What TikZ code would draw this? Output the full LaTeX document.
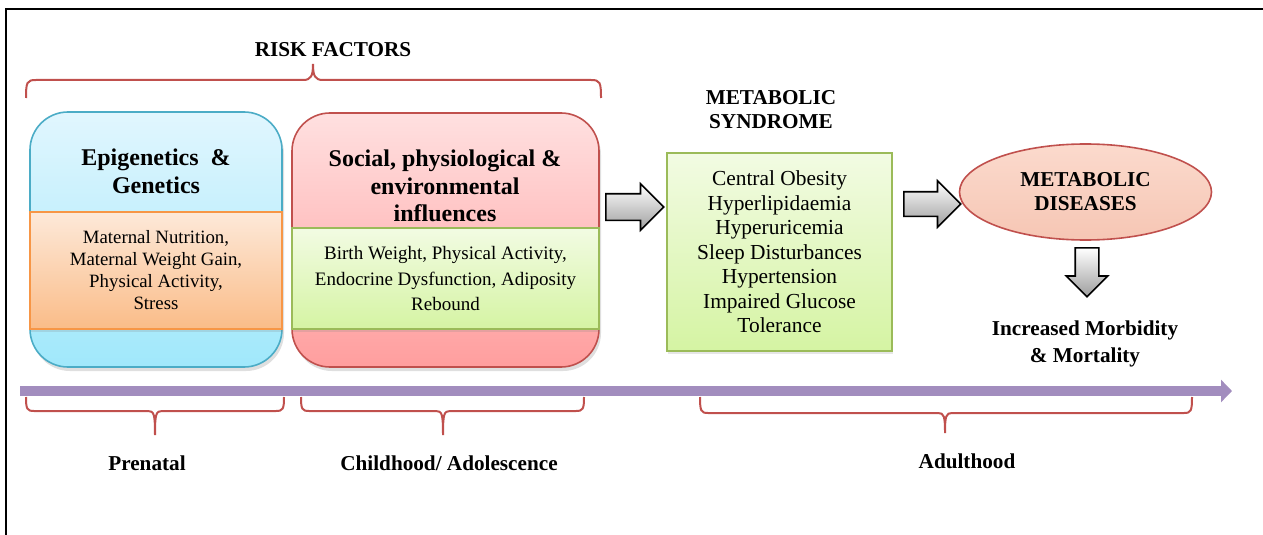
\documentclass[tikz,border=0pt]{standalone}
\usepackage{fontspec}
\setmainfont{Liberation Serif}
\usetikzlibrary{positioning, shapes.geometric, shapes.arrows, shadows, arrows.meta}

\definecolor{blueedge}{HTML}{4BACC6}
\definecolor{bluetop}{HTML}{E1F6FE}
\definecolor{bluebot}{HTML}{A0E8FB}
\definecolor{orangeedge}{HTML}{F79646}
\definecolor{orangetop}{HTML}{FDE9D9}
\definecolor{orangebot}{HTML}{FABC88}
\definecolor{pinkedge}{HTML}{C0504D}
\definecolor{pinktop}{HTML}{FFE0E0}
\definecolor{pinkbot}{HTML}{FF9E9E}
\definecolor{greenedge}{HTML}{9BBB59}
\definecolor{greentop}{HTML}{F2FBE3}
\definecolor{greenbot}{HTML}{D5F4A3}
\definecolor{saltop}{HTML}{FBDACD}
\definecolor{salbot}{HTML}{F6C6B4}
\definecolor{arrowgray}{HTML}{9E9E9E}
\definecolor{timeline}{HTML}{A28DBE}
\definecolor{bracered}{HTML}{C0504D}

\begin{document}
\begin{tikzpicture}[x=0.5pt, y=-0.5pt,
    stage/.style={rounded corners=19pt, line width=0.8pt, inner sep=0pt,
        drop shadow={opacity=0.25, shadow xshift=1pt, shadow yshift=-2pt}},
    factors/.style={line width=0.8pt, inner sep=0pt, align=center,
        drop shadow={opacity=0.2, shadow xshift=0.5pt, shadow yshift=-1.5pt}},
    boxtitle/.style={align=center, font=\fontsize{12}{13.8}\selectfont\bfseries},
    heading/.style={align=center, font=\fontsize{10.6}{12}\selectfont\bfseries},
    fatarrow/.style={single arrow, draw=black, line width=0.8pt, anchor=tail,
        top color=white, bottom color=arrowgray},
    brc/.style={draw=bracered, line width=1pt},
]
\useasboundingbox (0,0) rectangle (1263,535);

% frame
\draw[line width=1pt] (6,535) -- (6,9) -- (1263,9);

% risk factors
\node[heading] (risk) at (333,50) {RISK FACTORS};
\draw[brc] (26,98) .. controls (26,82) and (27,80) .. (36,80) -- (303,80)
    .. controls (311,80) and (313,76) .. (313,64)
    .. controls (313,76) and (315,80) .. (323,80) -- (591,80)
    .. controls (600,80) and (601,82) .. (601,98);

\node[stage, draw=blueedge, top color=bluetop, bottom color=bluebot,
    minimum width=126pt, minimum height=127.5pt] (epi) at (156,239.5) {};
\node[boxtitle] (epititle) at (156,171) {Epigenetics\ \ \&\\Genetics};
\node[factors, draw=orangeedge, top color=orangetop, bottom color=orangebot,
    minimum width=126pt, minimum height=58.5pt,
    font=\fontsize{9.4}{11}\selectfont] (epifac) at (156,270.5)
    {Maternal Nutrition,\\Maternal Weight Gain,\\Physical Activity,\\Stress};

\node[stage, draw=pinkedge, top color=pinktop, bottom color=pinkbot,
    minimum width=153.5pt, minimum height=127pt] (soc) at (445.5,240) {};
\node[boxtitle] (soctitle) at (445,186) {Social, physiological \&\\environmental\\influences};
\node[factors, draw=greenedge, top color=greentop, bottom color=greenbot,
    minimum width=153.5pt, minimum height=50.5pt,
    font=\fontsize{9.5}{12.5}\selectfont] (socfac) at (445.5,278.5)
    {Birth Weight, Physical Activity,\\Endocrine Dysfunction, Adiposity\\Rebound};

\node[fatarrow, inner xsep=0pt, inner ysep=6.25pt, minimum height=29pt,
    single arrow head extend=5pt] (arr1) at (605,207) {};

% metabolic syndrome
\node[heading] (synhead) at (771,110) {METABOLIC\\SYNDROME};
\node[factors, draw=greenedge, top color=greentop, bottom color=greenbot,
    minimum width=112.5pt, minimum height=99pt,
    font=\fontsize{10.7}{12.25}\selectfont] (syn) at (779.5,252)
    {Central Obesity\\Hyperlipidaemia\\Hyperuricemia\\Sleep Disturbances\\Hypertension\\Impaired Glucose\\Tolerance};

\node[fatarrow, inner xsep=0pt, inner ysep=5.75pt, minimum height=28.5pt,
    single arrow head extend=5.5pt] (arr2) at (903,204) {};

\node[ellipse, draw=pinkedge, line width=0.8pt, top color=saltop, bottom color=salbot,
    minimum width=126pt, minimum height=48pt, inner sep=0pt,
    heading, yshift=-1pt] (dis) at (1085.5,190) {METABOLIC\\DISEASES};

\node[fatarrow, shape border rotate=270, inner sep=5.5pt, minimum height=24.5pt,
    single arrow head extend=4.5pt] (arr3) at (1087,247) {};
\node[heading, font=\fontsize{10.6}{13.5}\selectfont\bfseries] (morb) at (1085,344)
    {Increased Morbidity\\\& Mortality};

% timeline
\coordinate (tlstart) at (20,391);
\coordinate (tlend) at (1232,391);
\draw[draw=timeline, line width=5pt, -{Triangle[length=5.5pt, width=11pt]}] (tlstart) -- (tlend);

\draw[brc] (26,397) .. controls (26,409) and (27,411) .. (34,411) -- (148,411)
    .. controls (154,411) and (155,414) .. (155,435)
    .. controls (155,414) and (156,411) .. (162,411) -- (276,411)
    .. controls (283,411) and (284,409) .. (284,397);
\draw[brc] (301,397) .. controls (301,409) and (302,411) .. (309,411) -- (436,411)
    .. controls (442,411) and (443,414) .. (443,435)
    .. controls (443,414) and (444,411) .. (450,411) -- (576,411)
    .. controls (583,411) and (584,409) .. (584,397);
\draw[brc] (700,397) .. controls (700,411) and (701,413) .. (708,413) -- (938,413)
    .. controls (944,413) and (945,416) .. (945,433)
    .. controls (945,416) and (946,413) .. (952,413) -- (1184,413)
    .. controls (1191,413) and (1192,411) .. (1192,397);

\node[heading] (prenatal) at (147,463) {Prenatal};
\node[heading] (child) at (449,463) {Childhood/ Adolescence};
\node[heading] (adult) at (967,461) {Adulthood};
\end{tikzpicture}
\end{document}
